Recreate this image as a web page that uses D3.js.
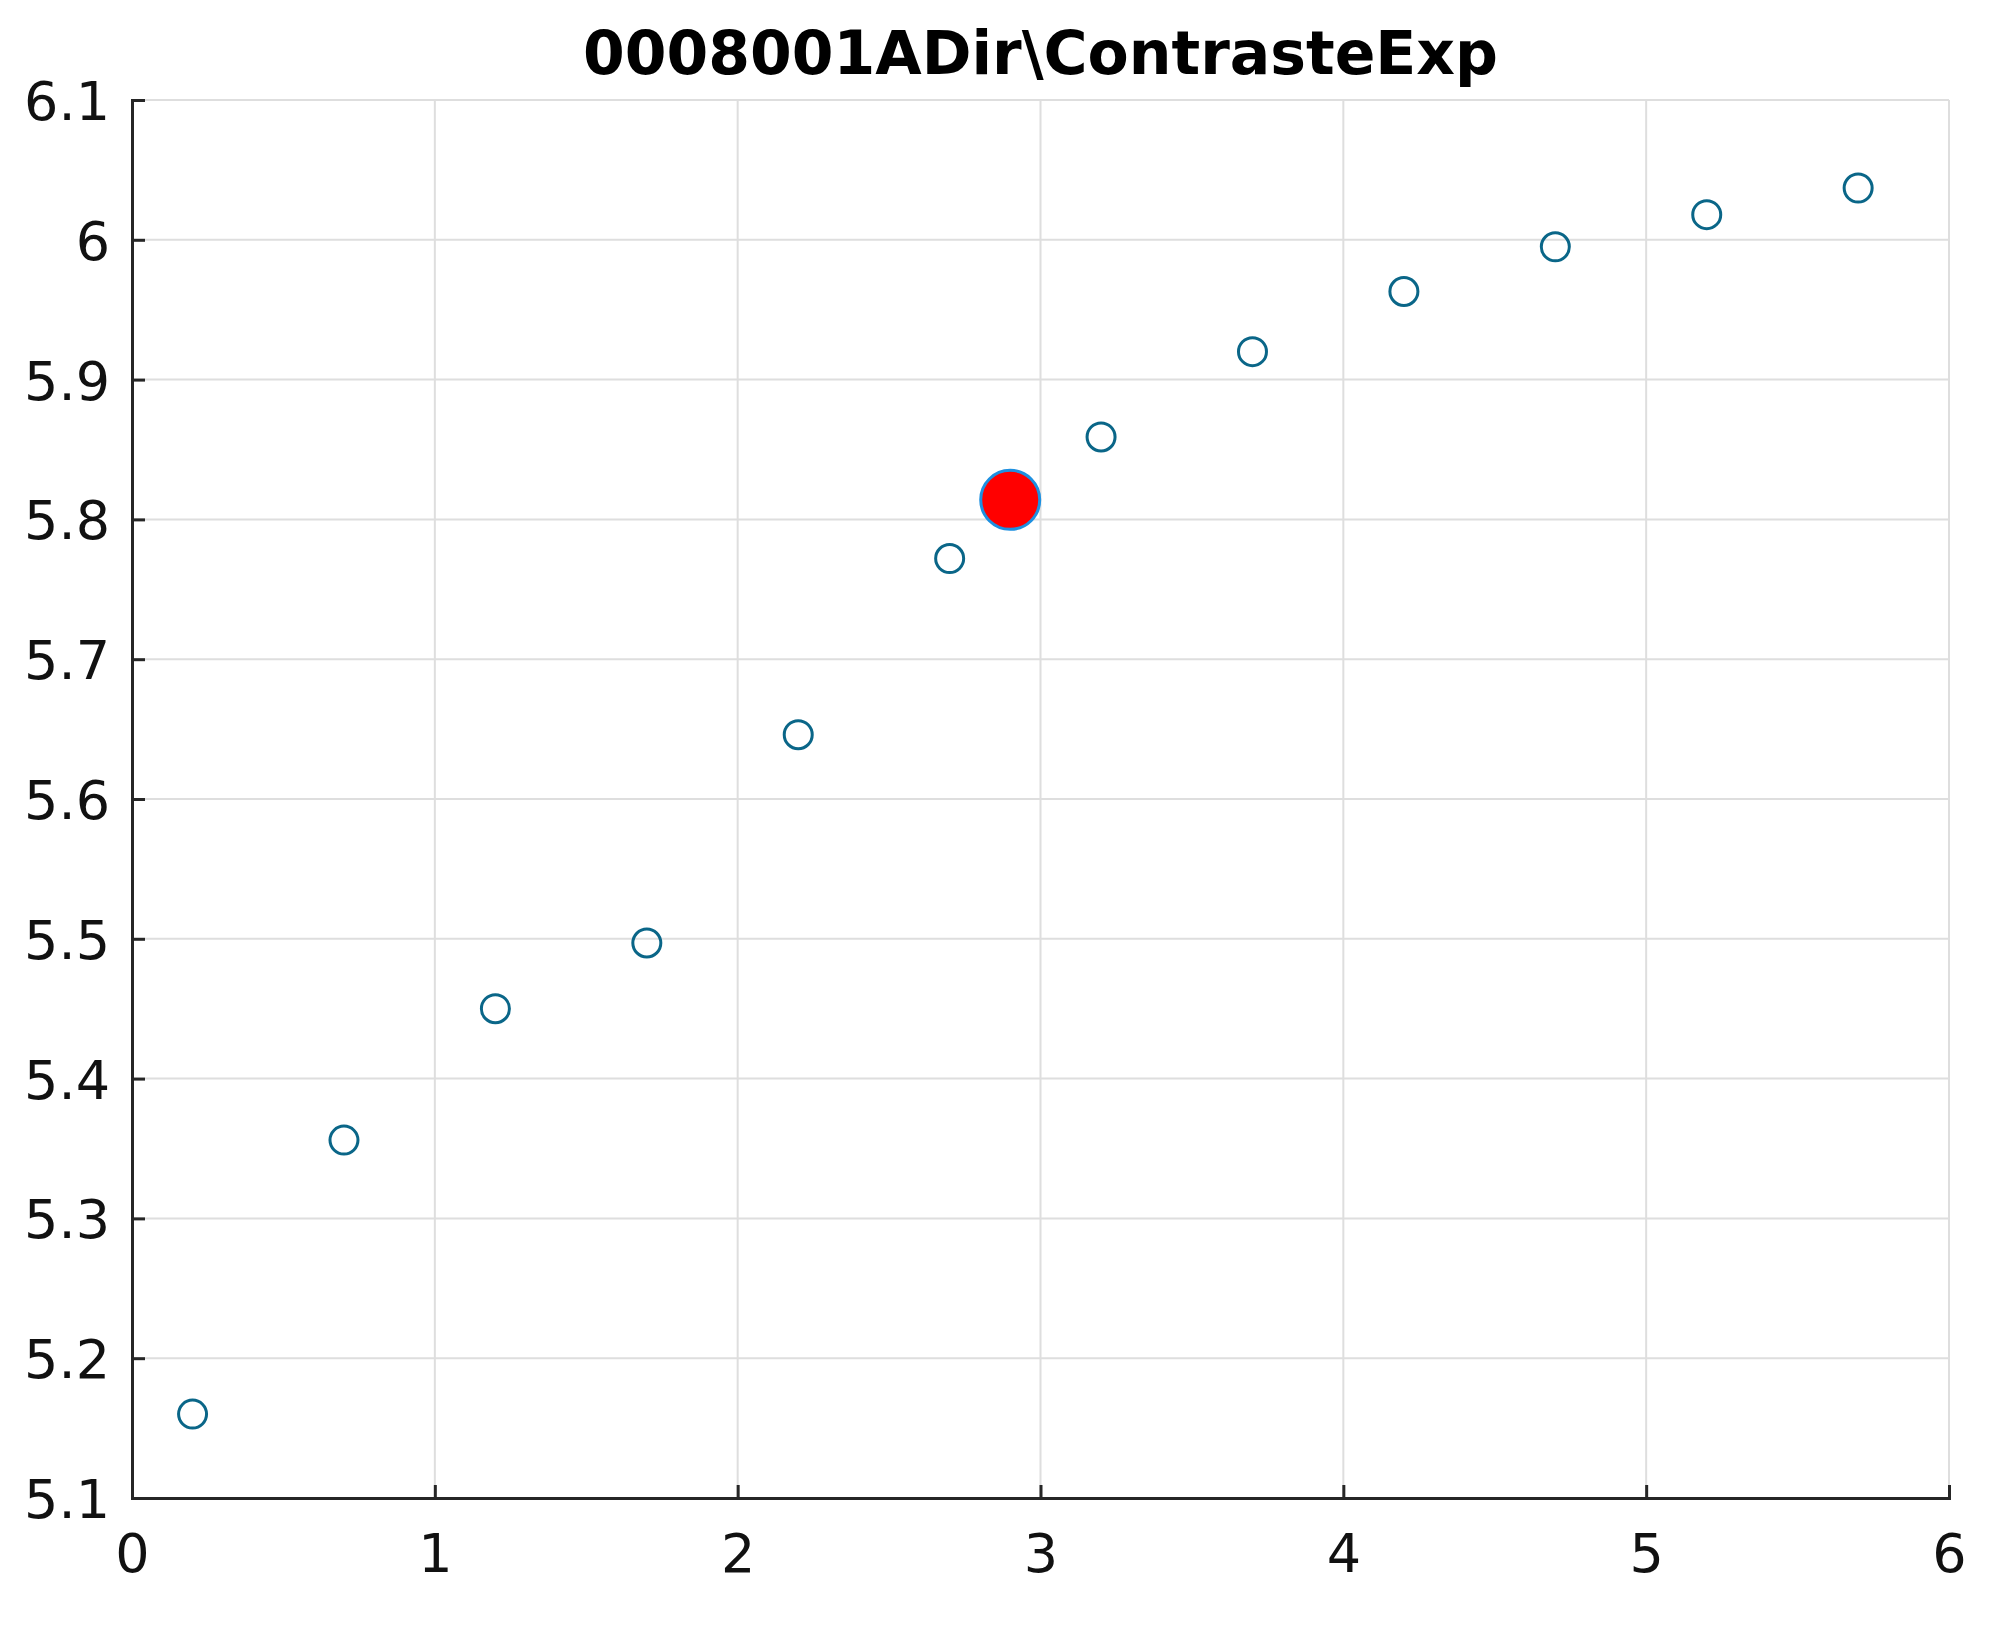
<!DOCTYPE html>
<html><head><meta charset="utf-8">
<script src="https://cdn.jsdelivr.net/npm/d3@7"></script>
<style>html,body{margin:0;padding:0;background:#fff;}</style>
</head><body>
<svg id="c" width="2011" height="1625"></svg>
<script>
const title = "0008001ADir\\ContrasteExp";
const xValues = [0.2, 0.7, 1.2, 1.7, 2.2, 2.7, 3.2, 3.7, 4.2, 4.7, 5.2, 5.7];
const yValues = [5.160, 5.356, 5.450, 5.497, 5.646, 5.772, 5.859, 5.920, 5.963, 5.995, 6.018, 6.037];
const highlightX = [2.9];
const highlightY = [5.814];
const xTicks = [0, 1, 2, 3, 4, 5, 6];
const yTicks = [5.1, 5.2, 5.3, 5.4, 5.5, 5.6, 5.7, 5.8, 5.9, 6.0, 6.1];

const m = {left: 132, right: 2011 - 1949, top: 100, bottom: 1625 - 1498};
const W = 2011, H = 1625;
const svg = d3.select("#c");
const x = d3.scaleLinear().domain([0, 6]).range([m.left, W - m.right]);
const y = d3.scaleLinear().domain([5.1, 6.1]).range([H - m.bottom, m.top]);
const font = "'DejaVu Sans', sans-serif";

// grid
const g = svg.append("g");
g.selectAll(".vg").data(xTicks).enter().append("line")
  .attr("x1", d => x(d)).attr("x2", d => x(d)).attr("y1", y(5.1)).attr("y2", y(6.1))
  .attr("stroke", "#dedede").attr("stroke-width", 2);
g.selectAll(".hg").data(yTicks).enter().append("line")
  .attr("y1", d => y(d)).attr("y2", d => y(d)).attr("x1", x(0)).attr("x2", x(6))
  .attr("stroke", "#dedede").attr("stroke-width", 2);

// axes
const xAxis = d3.axisBottom(x).tickValues(xTicks).tickSize(-13).tickPadding(28).tickFormat(d3.format("d"));
const yAxis = d3.axisLeft(y).tickValues(yTicks).tickSize(-13).tickPadding(22).tickFormat(d => d === 6 ? "6" : d3.format(".1f")(d));
const xa = svg.append("g").attr("transform", `translate(0,${y(5.1)})`).call(xAxis);
const ya = svg.append("g").attr("transform", `translate(${x(0)},0)`).call(yAxis);
[xa, ya].forEach(a => {
  a.select(".domain").attr("stroke", "#262626").attr("stroke-width", 3);
  a.selectAll(".tick line").attr("stroke", "#262626").attr("stroke-width", 3);
  a.selectAll(".tick text").attr("fill", "#111").style("font-family", font).style("font-size", "54px");
});
xa.selectAll(".tick text").attr("dy", "0.85em");
ya.selectAll(".tick text").attr("dy", "0.36em");

// points
svg.append("g").selectAll("circle").data(xValues.map((v, i) => [v, yValues[i]])).enter()
  .append("circle").attr("cx", d => x(d[0])).attr("cy", d => y(d[1])).attr("r", 14)
  .attr("fill", "none").attr("stroke", "#0a6688").attr("stroke-width", 3);

svg.append("g").selectAll("circle").data(highlightX.map((v, i) => [v, highlightY[i]])).enter()
  .append("circle").attr("cx", d => x(d[0])).attr("cy", d => y(d[1])).attr("r", 29.5)
  .attr("fill", "#ff0000").attr("stroke", "#1e90e0").attr("stroke-width", 3);

// title
svg.append("text").attr("x", (x(0) + x(6)) / 2).attr("y", 74).attr("text-anchor", "middle")
  .style("font-family", font).style("font-weight", "bold").style("font-size", "60px").attr("fill", "#000")
  .text(title);
</script>
</body></html>
